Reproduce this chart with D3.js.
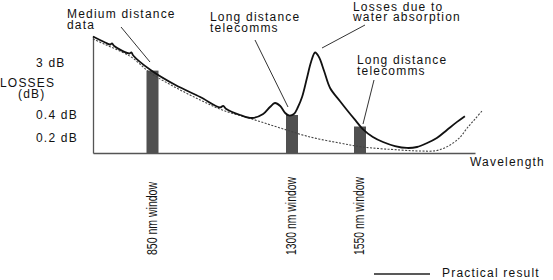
<!DOCTYPE html>
<html>
<head>
<meta charset="utf-8">
<script src="https://cdn.jsdelivr.net/npm/d3@7"></script>
<style>
  body { margin: 0; background: #fff; }
  svg text { font-family: "Liberation Sans", Arial, sans-serif; fill: #111; }
</style>
</head>
<body>
<svg id="losses" width="553" height="280"></svg>
<script>
// fibre attenuation sketch

// wavelength (nm) / loss (dB)
var practicalNm = [600, 651, 672, 680, 689, 753, 761, 769, 842, 924, 1004, 1068, 1078, 1088,
  1133, 1171, 1207, 1229, 1245, 1262, 1278, 1290, 1307, 1322, 1337, 1355, 1370, 1385, 1399,
  1418, 1440, 1476, 1502, 1532, 1556, 1578, 1600, 1626, 1652, 1674, 1696, 1717, 1739, 1761, 1778];
var practicalDb = [5.65, 5.05, 4.85, 4.97, 4.7, 3.95, 4.07, 3.75, 2.65, 1.9, 1.3, 0.78, 0.86, 0.7,
  0.4, 0.374, 0.45, 0.8, 1.0, 0.85, 0.5, 0.396, 0.45, 0.8, 1.3, 2.25, 3.1, 4.05, 3.6,
  2.6, 1.75, 1.1, 0.65, 0.357, 0.278, 0.209, 0.147, 0.093, 0.067, 0.08, 0.133, 0.2, 0.27, 0.34, 0.39];

var theoryNm = [600, 651, 757, 842, 924, 1004, 1075, 1171, 1262, 1366, 1476, 1556, 1637, 1680, 1717, 1746, 1768, 1783, 1800, 1817];
var theoryDb = [5.4, 4.85, 3.65, 2.5, 1.78, 1.15, 0.65, 0.365, 0.287, 0.209, 0.133, 0.08, 0.04, 0.027, 0.033, 0.107, 0.209, 0.287, 0.365, 0.65];

var windowNm = [850, 1300, 1550];
var windowLabels = ["850 nm window", "1300 nm window", "1550 nm window"];
var windowDb = [2.62, 0.4, 0.3];

var tickDb = [3, 0.4, 0.2];
var tickLabels = ["3 dB", "0.4 dB", "0.2 dB"];

var svg = d3.select("#losses");

// the drawing is schematic, so both scales are piecewise
var x = d3.scaleLinear()
  .domain([600, 850, 1300, 1550, 1800])
  .range([93, 152.5, 292, 360, 475]);
var y = d3.scaleLinear()
  .domain([0, 0.2, 0.4, 3, 5.7])
  .range([153, 138, 115, 63, 36]);

// windows
svg.selectAll("rect.win")
  .data(windowNm)
  .enter().append("rect")
  .attr("class", "win")
  .attr("x", function(d) { return x(d) - 6; })
  .attr("width", 12)
  .attr("y", function(d, i) { return y(windowDb[i]); })
  .attr("height", function(d, i) { return y(0) - y(windowDb[i]); })
  .attr("fill", "#505050");

svg.selectAll("text.win")
  .data(windowNm)
  .enter().append("text")
  .attr("class", "win")
  .attr("transform", function(d) { return "translate(" + (x(d) + 4) + ",255) rotate(-90)"; })
  .attr("font-size", 14)
  .attr("textLength", function(d, i) { return i == 0 ? 73 : 78; })
  .attr("lengthAdjust", "spacingAndGlyphs")
  .text(function(d, i) { return windowLabels[i]; });

// axes
svg.append("g")
  .attr("transform", "translate(93,0)")
  .call(d3.axisLeft(y).tickValues([]).tickSizeOuter(0))
  .select(".domain").attr("stroke", "#555").attr("stroke-width", 1.3);
svg.append("g")
  .attr("transform", "translate(0,153)")
  .call(d3.axisBottom(x).tickValues([]).tickSizeOuter(0))
  .select(".domain").attr("stroke", "#555").attr("stroke-width", 1.3);

svg.selectAll("text.tick")
  .data(tickDb)
  .enter().append("text")
  .attr("class", "tick")
  .attr("x", 36)
  .attr("y", function(d) { return y(d) + 4; })
  .attr("font-size", 12)
  .attr("letter-spacing", 1.2)
  .text(function(d, i) { return tickLabels[i]; });

var line = d3.line()
  .x(function(d) { return x(d[0]); })
  .y(function(d) { return y(d[1]); })
  .curve(d3.curveCatmullRom);

var theory = d3.zip(theoryNm, theoryDb);
var practical = d3.zip(practicalNm, practicalDb);

svg.append("path")
  .attr("d", line(theory))
  .attr("fill", "none")
  .attr("stroke", "#444")
  .attr("stroke-width", 1.1)
  .attr("stroke-dasharray", "2,1.5");

svg.append("path")
  .attr("d", line(practical))
  .attr("fill", "none")
  .attr("stroke", "#111")
  .attr("stroke-width", 1.8);

// annotations, two-line labels as one text each
var notes = [
  { lines: ["Medium distance", "data"], x: 67, y: 18, lead: [121, 27, 150, 62] },
  { lines: ["Long distance", "telecomms"], x: 210, y: 21, lead: [255, 40, 288, 107] },
  { lines: ["Losses due to", "water absorption"], x: 353, y: 10.5, lead: [365, 25, 322, 48] },
  { lines: ["Long distance", "telecomms"], x: 357, y: 64, lead: [374, 80, 363, 124] },
  { lines: ["LOSSES", "(dB)"], x: 0, y: 87, dx: [0, 18] }
];

notes.forEach(function(n) {
  var t = svg.append("text")
    .attr("y", n.y)
    .attr("font-size", 12)
    .attr("letter-spacing", 1.2);
  n.lines.forEach(function(s, i) {
    t.append("tspan")
      .attr("x", n.x + (n.dx ? n.dx[i] : 0))
      .attr("dy", i == 0 ? 0 : 10.5)
      .text(s);
  });
  if (n.lead) {
    svg.append("line")
      .attr("x1", n.lead[0]).attr("y1", n.lead[1])
      .attr("x2", n.lead[2]).attr("y2", n.lead[3])
      .attr("stroke", "#333")
      .attr("stroke-width", 1);
  }
});

svg.append("text").attr("x", 470).attr("y", 166).attr("font-size", 12).attr("letter-spacing", 1.2).text("Wavelength");

// legend
svg.append("line")
  .attr("x1", 374).attr("x2", 430)
  .attr("y1", 274).attr("y2", 274)
  .attr("stroke", "#222")
  .attr("stroke-width", 1.5);
svg.append("text").attr("x", 442).attr("y", 277).attr("font-size", 12).attr("letter-spacing", 1.2).text("Practical result");
</script>
</body>
</html>
